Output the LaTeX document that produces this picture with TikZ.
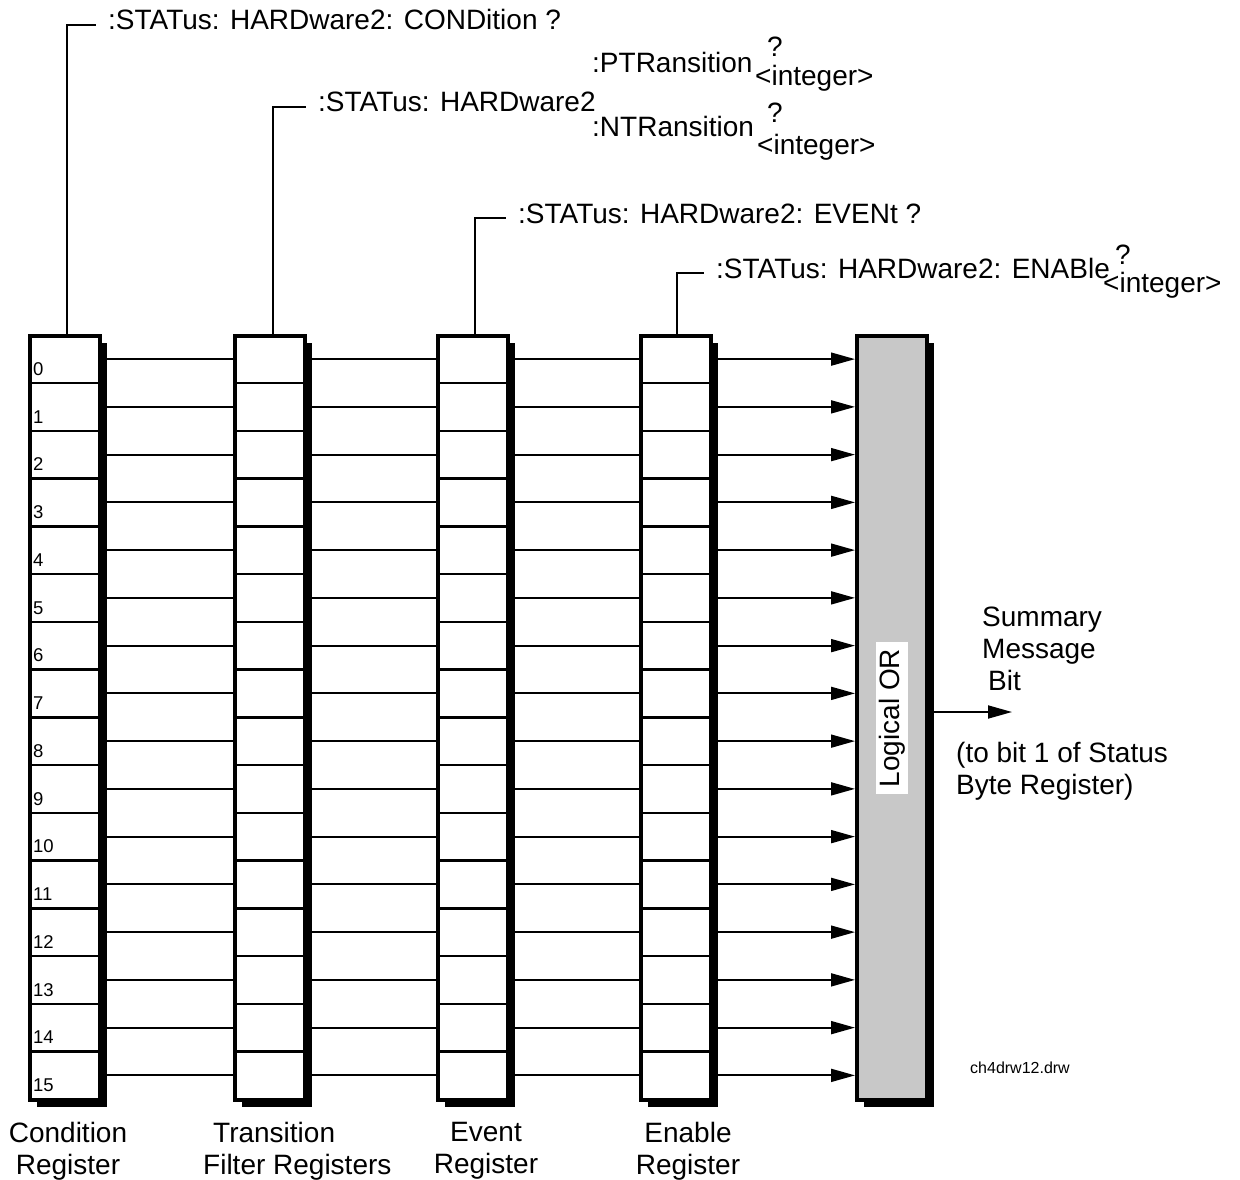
\documentclass[tikz,border=0pt]{standalone}
\usepackage{fontspec}
\setmainfont{Liberation Sans}
\usepackage{tikz}
\usetikzlibrary{arrows.meta}
\usetikzlibrary{shadows}
\definecolor{orgray}{RGB}{200,200,200}
\tikzset{
	regbox/.style={draw, fill=white, line width=3.5pt, minimum width=70pt, minimum height=764pt, inner sep=0pt, anchor=north west, drop shadow={shadow xshift=7pt, shadow yshift=-7pt, fill=black, opacity=1}},
	cell/.style={draw, line width=2.5pt, minimum width=70pt, minimum height=47.75pt, inner sep=0pt, anchor=north west},
	wire/.style={draw, line width=1.8pt},
	sig/.style={draw, line width=1.8pt, -{Triangle[length=24pt, width=13pt]}},
	big/.style={font=\fontsize{28}{32}\selectfont, inner sep=0pt},
	small/.style={font=\fontsize{18.5}{20}\selectfont, inner sep=0pt},
	cmd/.style={big, anchor=base west, inner xsep=12pt},
}

\begin{document}
\begin{tikzpicture}[x=1pt, y=-1pt]
		\useasboundingbox (0,0) rectangle (1240,1180);

		\node[regbox] (regC) at (28,334) {};
		\node[regbox] (regT) at (233,334) {};
		\node[regbox] (regE) at (436,334) {};
		\node[regbox] (regN) at (639,334) {};
		\node[regbox, fill=orgray] (lor) at (855,334) {};

		\foreach \i in {0,...,15} {
			\node[cell] (c\i) at (28,{334+47.75*\i}) {};
			\node[cell] (t\i) at (233,{334+47.75*\i}) {};
			\node[cell] (e\i) at (436,{334+47.75*\i}) {};
			\node[cell] (n\i) at (639,{334+47.75*\i}) {};
			\node[small, anchor=base west] (k\i) at ([shift={(5,-9)}]c\i.south west) {\i};
			\path[wire] (c\i) -- (t\i);
			\path[wire] (t\i) -- (e\i);
			\path[wire] (e\i) -- (n\i);
			\path[sig] (n\i) -- (n\i -| lor.west);
		}

		\node[big, rotate=90, fill=white, inner xsep=7pt, inner ysep=3pt] (orlbl) at (892,718) {Logical OR};

		\node[cmd] (lblC) at (96,30) {:STATus: HARDware2: CONDition ?};
		\node[cmd] (lblT) at (306,112) {:STATus: HARDware2};
		\node[cmd] (lblE) at (506,223) {:STATus: HARDware2: EVENt ?};
		\node[cmd] (lblN) at (704,278) {:STATus: HARDware2: ENABle};
		\path[wire] ([xshift=2pt]regC.north) |- ([yshift=5pt]lblC.base west);
		\path[wire] ([xshift=3pt]regT.north) |- ([yshift=5pt]lblT.base west);
		\path[wire] ([xshift=2pt]regE.north) |- ([yshift=5pt]lblE.base west);
		\path[wire] ([xshift=1pt]regN.north) |- ([yshift=5pt]lblN.base west);

		\node[big, anchor=base west] (ptr) at (592,73) {:PTRansition};
		\node[big, anchor=base west] (ptq) at (767,57) {?};
		\node[big, anchor=base west] (pti) at (755,86) {<integer>};
		\node[big, anchor=base west] (ntr) at (592,137) {:NTRansition};
		\node[big, anchor=base west] (ntq) at (767,123) {?};
		\node[big, anchor=base west] (nti) at (757,155) {<integer>};
		\node[big, anchor=base west] (enq) at (1115,264) {?};
		\node[big, anchor=base west] (eni) at (1103,292) {<integer>};

		\coordinate (smb) at (1012,712);
		\path[sig] (smb -| lor.east) -- (smb);
		\node[big, align=left, anchor=north west] (sumtxt) at (982,607) {Summary\\Message\\\hspace*{6pt}Bit};
		\node[big, align=left, anchor=north west] (totxt) at (956,742) {(to bit 1 of Status\\Byte Register)};
		\node[small, font=\fontsize{16}{18}\selectfont, anchor=base west] (fname) at (970,1073) {ch4drw12.drw};

		\node[big, align=center, anchor=north] (capC) at (68,1122) {Condition\\Register};
		\node[big, align=left, anchor=north west] (capT) at (203,1122) {\hspace*{10pt}Transition\\Filter Registers};
		\node[big, align=center, anchor=north] (capE) at (486,1122) {Event\\Register};
		\node[big, align=center, anchor=north] (capN) at (688,1122) {Enable\\Register};
\end{tikzpicture}
\end{document}
